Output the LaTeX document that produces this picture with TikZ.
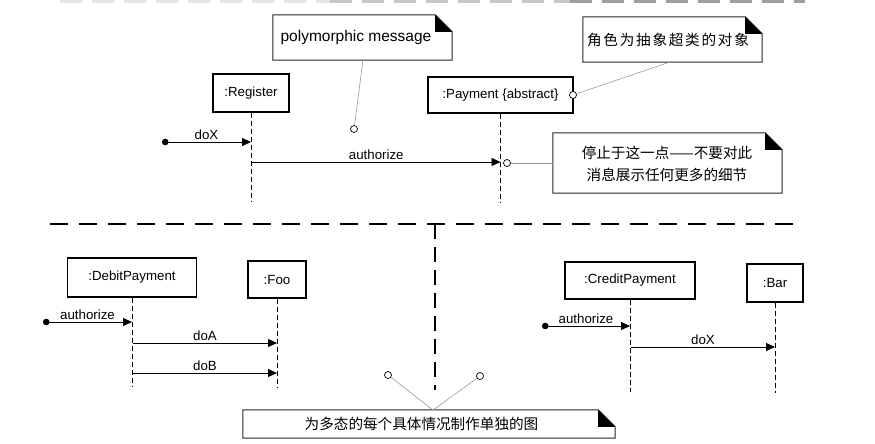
\documentclass[tikz,border=0pt]{standalone}
\usepackage{fontspec}
\setmainfont{Liberation Sans}
\newfontfamily\cjk{Noto Sans CJK SC}
\newfontfamily\cjkwide{Noto Sans CJK SC}[LetterSpace=12]
\usetikzlibrary{arrows.meta}
\newcommand\notedraw[1]{%
  \draw[noteline] (#1.south west) -- (#1.north west) -- ([xshift=-17pt]#1.north east)
     -- ([yshift=-17pt]#1.north east) -- (#1.south east) -- cycle;
  \fill ([xshift=-17pt]#1.north east) -- ([xshift=-17pt,yshift=-17pt]#1.north east)
     -- ([yshift=-17pt]#1.north east) -- cycle;}
\begin{document}
\begin{tikzpicture}[x=1pt,y=-1pt,
  obj/.style={draw, line width=1.1pt, inner sep=0pt, font=\fontsize{13.3}{15}\selectfont},
  notebox/.style={inner sep=0pt, draw=none},
  noteline/.style={line width=1pt, draw=black!85},
  ntext/.style={inner sep=0pt, font=\fontsize{15.5}{18}\selectfont},
  ctext/.style={inner sep=0pt, align=center, font=\cjk\fontsize{14.6}{22}\selectfont},
  life/.style={line width=0.9pt, dash pattern=on 5pt off 3pt},
  msg/.style={line width=0.8pt, -{Triangle[length=9pt,width=8pt]}},
  found/.style={line width=0.8pt, {Circle[length=6.5pt]}-{Triangle[length=9pt,width=8pt]}},
  lbl/.style={midway, above, inner sep=1.5pt, font=\fontsize{13.3}{15}\selectfont},
  anch/.style={gray!80, line width=0.6pt},
  circ/.style={circle, draw, line width=0.7pt, inner sep=0pt, minimum size=7pt, fill=white},
  sep/.style={line width=2.5pt, dash pattern=on 18pt off 11pt},
  vsep/.style={line width=2.5pt, dash pattern=on 15pt off 8pt},
  remnant/.style={line width=3pt, dash pattern=on 22pt off 10pt}
]
\useasboundingbox (0,0) rectangle (875,444);
% faint remains of the previous row at the top edge
\draw[remnant, gray!20] (60,1.5) -- (330,1.5);
\draw[remnant, gray!45] (330,1.5) -- (570,1.5);
\draw[remnant, gray!75] (570,1.5) -- (805,1.5);

% ---------- upper diagram ----------
\node[obj, minimum width=76pt, minimum height=38pt] (reg) at (251,93) {:Register};
\node[obj, minimum width=145pt, minimum height=36pt] (pay) at (500.5,95) {:Payment \{abstract\}};
\coordinate (regend) at (251,202);
\coordinate (payend) at (500.5,202);
\draw[life] (reg.south) -- (regend);
\draw[life] (pay.south) -- (payend);

\coordinate (doXs) at (162,142);
\coordinate (doXe) at (251,142);
\draw[found] (doXs) -- (doXe) node[lbl] {doX};
\coordinate (auths) at (252,162);
\coordinate (authe) at (500.5,162);
\draw[msg] (auths) -- (authe) node[lbl] {authorize};

% notes
\node[notebox, minimum width=179pt, minimum height=45pt] (n1) at (362.5,37.5) {};
\notedraw{n1}
\node[ntext] (n1t) at (356,37.5) {polymorphic message};
\node[notebox, minimum width=179pt, minimum height=45pt] (n2) at (672.5,39.5) {};
\notedraw{n2}
\node[ctext, font=\cjkwide\fontsize{14.6}{22}\selectfont] (n2t) at (668,39.5) {角色为抽象超类的对象};
\node[notebox, minimum width=229pt, minimum height=60pt] (n3) at (667.5,163) {};
\notedraw{n3}
\node[ctext] (n3t) at (667,164) {停止于这一点——不要对此\\消息展示任何更多的细节};

\node[circ] (c1) at (354,129) {};
\coordinate (n1a) at (363,60);
\draw[anch] (c1) -- (n1a);
\node[circ] (c2) at (573,95) {};
\coordinate (n2a) at (670,62);
\draw[anch] (c2) -- (n2a);
\node[circ] (c3) at (507,163) {};
\draw[anch] (c3) -- (n3.west);

% ---------- separators ----------
\coordinate (sepl) at (50,224);
\coordinate (sepr) at (797,224);
\coordinate (sept) at (435,224);
\coordinate (sepb) at (435,390);
\draw[sep] (sepl) -- (sepr);
\draw[vsep] (sept) -- (sepb);

% ---------- lower left diagram ----------
\node[obj, minimum width=129pt, minimum height=39pt] (dp) at (132,277.5) {:DebitPayment};
\node[obj, minimum width=58pt, minimum height=37pt] (foo) at (277,279.5) {:Foo};
\coordinate (dpend) at (132,387);
\coordinate (fooend) at (277,388);
\draw[life] (dp.south) -- (dpend);
\draw[life] (foo.south) -- (fooend);
\coordinate (da1) at (43,322);
\coordinate (da2) at (132,322);
\draw[found] (da1) -- (da2) node[lbl] {authorize};
\coordinate (dA1) at (133,343);
\coordinate (dA2) at (277,343);
\draw[msg] (dA1) -- (dA2) node[lbl] {doA};
\coordinate (dB1) at (133,373);
\coordinate (dB2) at (277,373);
\draw[msg] (dB1) -- (dB2) node[lbl] {doB};

% ---------- lower right diagram ----------
\node[obj, minimum width=130pt, minimum height=37pt] (cp) at (630,280.5) {:CreditPayment};
\node[obj, minimum width=56pt, minimum height=38pt] (bar) at (775,283) {:Bar};
\coordinate (cpend) at (630,392);
\coordinate (barend) at (775,393);
\draw[life] (cp.south) -- (cpend);
\draw[life] (bar.south) -- (barend);
\coordinate (ca1) at (542,326);
\coordinate (ca2) at (630,326);
\draw[found] (ca1) -- (ca2) node[lbl] {authorize};
\coordinate (cx1) at (631,347);
\coordinate (cx2) at (775,347);
\draw[msg] (cx1) -- (cx2) node[lbl] {doX};

% ---------- bottom note ----------
\node[notebox, minimum width=372pt, minimum height=28pt] (n4) at (429,424) {};
\notedraw{n4}
\node[ctext] (n4t) at (421.5,424) {为多态的每个具体情况制作单独的图};
\node[circ] (c5) at (388,375) {};
\node[circ] (c6) at (480,376) {};
\coordinate (n4a) at (433,410);
\draw[anch] (c5) -- (n4a);
\draw[anch] (c6) -- (n4a);
\end{tikzpicture}
\end{document}
